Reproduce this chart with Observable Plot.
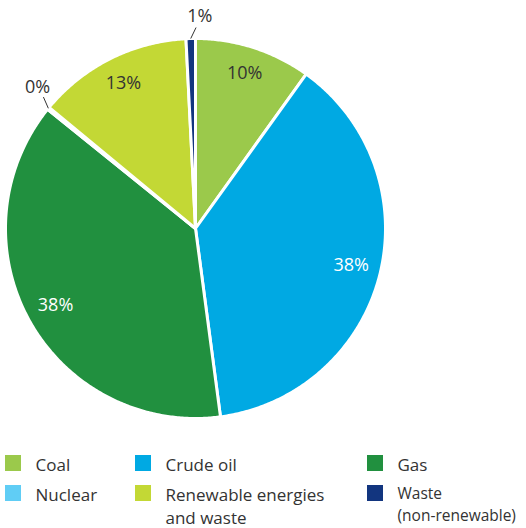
<!DOCTYPE html>
<html><head><meta charset="utf-8">
<script src="https://cdn.jsdelivr.net/npm/d3@7"></script>
<script src="https://cdn.jsdelivr.net/npm/@observablehq/plot@0.6"></script>
<style>
html,body{margin:0;padding:0;background:#fff;}
svg{font-family:"Open Sans",sans-serif;}
</style>
</head><body><div id="chart"></div>
<script>
// Data
const categories = ["Coal", "Crude oil", "Gas", "Nuclear", "Renewable energies and waste", "Waste (non-renewable)"];
const legendLabels = ["Coal", "Crude oil", "Gas", "Nuclear", "Renewable energies\nand waste", "Waste\n(non-renewable)"];
const shares = [9.9, 38.0, 37.9, 0.2, 13.2, 0.8];
const colors = ["#9bc94b", "#00a9e3", "#21903f", "#60cdf5", "#c3d835", "#12357f"];
const labelInside = [true, true, true, false, true, false];
const labelDark = [true, false, false, true, true, true];

// Layout
const W = 526, H = 528;
const cx = 195, cy = 228, R = 190;
const toXY = (deg, r) => [cx + r * Math.sin(deg * Math.PI / 180), cy - r * Math.cos(deg * Math.PI / 180)];

const pie = d3.pie().sort(null).value(d => d.value)(categories.map((name, i) => ({name, value: shares[i], i})));
const slices = pie.map(p => {
  const a0 = p.startAngle * 180 / Math.PI, a1 = p.endAngle * 180 / Math.PI;
  return {name: p.data.name, i: p.data.i, value: p.data.value, a0, a1, mid: (a0 + a1) / 2};
});

const slicePoints = [];
for (const s of slices) {
  slicePoints.push({name: s.name, x: cx, y: cy});
  const n = Math.max(2, Math.ceil((s.a1 - s.a0) / 0.5));
  for (let k = 0; k <= n; k++) {
    const [x, y] = toXY(s.a0 + (s.a1 - s.a0) * k / n, R);
    slicePoints.push({name: s.name, x, y});
  }
}

const labels = slices.map(s => {
  const txt = Math.round(s.value) + "%";
  if (labelInside[s.i]) {
    const [x, y] = toXY(s.mid, R * 0.845);
    return {txt, x, y: y - 2, dark: labelDark[s.i]};
  } else {
    const [x, y] = toXY(s.mid + 2.6, R + 22);
    const [x1, y1] = toXY(s.mid, R);
    const [x2, y2] = toXY(s.mid + 1.6, R + 11);
    return {txt, x, y, dark: true, x1, y1, x2, y2, outside: true};
  }
});

const legendCols = [5, 135, 367];
const legendRows = [463, 493];
const legend = categories.map((name, i) => ({
  name, label: legendLabels[i],
  x: legendCols[i % 3], y: legendRows[Math.floor(i / 3)]
}));

const plot = Plot.plot({
  width: W, height: H,
  margin: 0,
  x: {domain: [0, W], range: [0, W], axis: null},
  y: {domain: [0, H], range: [0, H], axis: null},
  color: {domain: categories, range: colors},
  style: {fontFamily: "Open Sans, sans-serif"},
  marks: [
    Plot.line(slicePoints, {x: "x", y: "y", z: "name", fill: "name", stroke: "white", strokeWidth: 3, strokeLinejoin: "round", curve: "linear-closed"}),
    Plot.link(labels.filter(d => d.outside), {x1: "x1", y1: "y1", x2: "x2", y2: "y2", stroke: "#333", strokeWidth: 1}),
    Plot.text(labels, {x: "x", y: "y", text: "txt", fill: d => d.dark ? "#333333" : "#ffffff", fontSize: 18, textAnchor: "middle", lineAnchor: "middle"}),
    Plot.rect(legend, {x1: "x", x2: d => d.x + 16, y1: d => d.y - 8, y2: d => d.y + 8, fill: "name"}),
    Plot.text(legend, {x: d => d.x + 30, y: d => d.y - 10, text: "label", fill: "#333333", fontSize: d => d.label.length > 20 && d.label.startsWith("Waste") ? 15.5 : 17, textAnchor: "start", lineAnchor: "top", lineHeight: 1.41})
  ]
});
document.getElementById("chart").appendChild(plot);
</script>
</body></html>
